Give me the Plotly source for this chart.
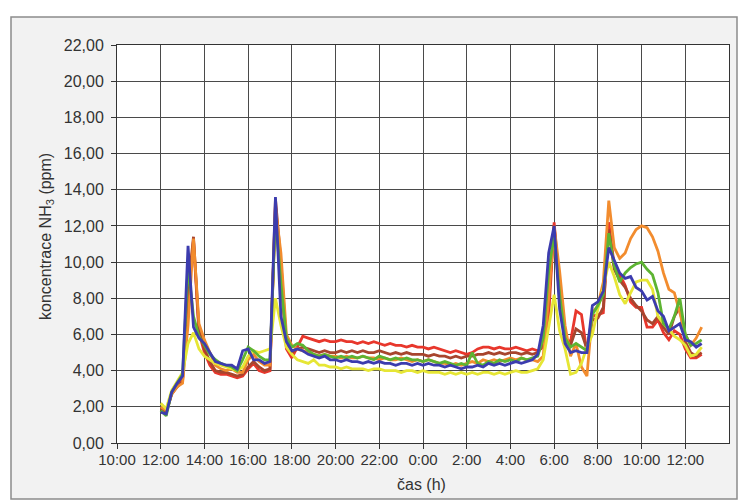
import plotly.graph_objects as go

# time in hours from 10:00 of day 1 (24 = midnight), 15-minute steps
times = [12 + 0.25 * i for i in range(100)]

blue = [
    1.7, 1.6, 2.8, 3.3,  3.7, 10.9, 6.4, 5.8,  5.5, 5.0, 4.5, 4.4,  4.3, 4.3, 4.1, 5.1,
    5.2, 4.6, 4.6, 4.4,  4.5, 13.6, 7.0, 5.6,  5.1, 5.2, 5.1, 4.9,  4.8, 4.7, 4.8, 4.6,
    4.6, 4.5, 4.6, 4.5,  4.5, 4.4, 4.5, 4.4,  4.5, 4.4, 4.4, 4.3,  4.4, 4.4, 4.3, 4.4,
    4.3, 4.4, 4.3, 4.3,  4.2, 4.3, 4.2, 4.1,  4.2, 4.2, 4.3, 4.2,  4.4, 4.3, 4.4, 4.3,
    4.4, 4.5, 4.4, 4.5,  4.6, 4.9, 6.5, 10.5, 12.0, 7.4, 5.5, 5.0, 5.1, 5.0, 5.0, 7.6,
    7.8, 8.4, 10.8, 10.1, 9.4, 9.1, 9.2, 8.6, 8.4, 7.9, 8.1, 7.3,  7.0, 6.2, 6.4, 6.6,
    5.7, 5.6, 5.3, 5.5,
]
green = [
    1.8, 1.5, 2.8, 3.3,  3.8, 9.8, 7.0, 5.9,  5.4, 4.9, 4.6, 4.4,  4.3, 4.2, 4.0, 4.6,
    5.3, 5.1, 4.8, 4.6,  4.6, 12.6, 8.8, 5.8,  5.3, 5.5, 5.4, 5.1,  4.9, 4.8, 4.9, 4.8,
    4.7, 4.8, 4.7, 4.8,  4.7, 4.8, 4.7, 4.6,  4.8, 4.7, 4.6, 4.7,  4.6, 4.7, 4.6, 4.6,
    4.5, 4.6, 4.5, 4.4,  4.5, 4.4, 4.3, 4.4,  4.3, 5.0, 4.4, 4.3,  4.5, 4.4, 4.6, 4.5,
    4.6, 4.5, 4.7, 4.6,  4.7, 4.8, 5.8, 9.5,  11.5, 8.2, 5.8, 5.3, 5.5, 5.3, 5.1, 7.1,
    7.6, 8.2, 11.6, 9.8, 8.9, 9.4, 9.7, 9.9, 10.0, 9.6, 9.3, 8.3, 6.6, 6.3, 7.0, 8.0,
    6.0, 5.4, 5.5, 5.7,
]
yellow = [
    2.2, 1.9, 2.9, 3.4,  3.9, 5.5, 6.1, 5.2,  4.8, 4.6, 4.4, 4.3,  4.2, 4.1, 4.0, 4.2,
    4.8, 5.1, 5.0, 5.1,  5.2, 8.0, 6.5, 5.3,  4.9, 4.6, 4.5, 4.4,  4.6, 4.3, 4.3, 4.2,
    4.2, 4.1, 4.2, 4.1,  4.1, 4.1, 4.0, 4.1,  4.1, 4.0, 4.0, 4.0,  3.9, 4.0, 4.0, 3.9,
    4.0, 3.9, 3.9, 3.9,  3.8, 3.9, 3.8, 3.9,  3.8, 3.9, 3.8, 3.9,  3.9, 3.8, 3.9, 3.8,
    3.9, 4.0, 3.9, 3.9,  4.0, 4.1, 4.6, 6.5,  8.2, 6.2, 5.2, 3.8,  3.9, 4.4, 5.3, 6.0,
    7.4, 8.6, 10.0, 9.2, 8.2, 7.7, 8.3, 8.9,  9.0, 9.0, 8.5, 7.0,  6.6, 6.3, 5.9, 5.7,
    5.4, 4.8, 4.9, 5.3,
]
orange = [
    2.0, 1.8, 2.7, 3.1,  3.3, 6.5, 11.3, 6.6, 5.7, 5.0, 4.3, 4.1,  4.0, 4.1, 3.9, 3.9,
    4.6, 4.9, 4.5, 4.3,  4.3, 13.0, 10.5, 6.0, 5.4, 5.2, 5.1, 5.0, 4.9, 4.8, 4.9, 4.8,
    4.8, 4.7, 4.8, 4.7,  4.7, 4.8, 4.7, 4.7,  4.6, 4.7, 4.6, 4.6,  4.7, 4.6, 4.5, 4.6,
    4.5, 4.6, 4.5, 4.4,  4.4, 4.3, 4.4, 4.3,  4.4, 4.5, 4.4, 4.6,  4.5, 4.6, 4.5, 4.6,
    4.7, 4.6, 4.7, 4.6,  4.6, 4.5, 4.8, 8.0,  12.0, 9.5, 6.5, 4.8, 5.5, 4.2, 3.7, 7.2,
    7.6, 8.9, 13.4, 10.8, 10.2, 10.5, 11.3, 11.8, 12.0, 11.9, 11.4, 10.6, 9.4, 8.5, 8.3, 7.2,
    6.0, 5.4, 5.8, 6.4,
]
red = [
    1.9, 1.7, 2.7, 3.2,  3.5, 8.0, 11.2, 6.1, 5.0, 4.3, 3.9, 3.8,  3.8, 3.7, 3.6, 3.7,
    4.1, 4.4, 4.0, 3.9,  4.0, 13.2, 9.2, 5.2,  4.7, 5.3, 5.9, 5.8,  5.7, 5.6, 5.7, 5.6,
    5.6, 5.7, 5.6, 5.6,  5.5, 5.6, 5.5, 5.6,  5.5, 5.4, 5.5, 5.4,  5.4, 5.3, 5.4, 5.3,
    5.3, 5.2, 5.3, 5.2,  5.1, 5.0, 5.1, 5.0,  4.9, 5.0, 5.2, 5.3,  5.3, 5.2, 5.3, 5.2,
    5.2, 5.3, 5.2, 5.1,  5.2, 5.1, 5.3, 7.0,  12.2, 8.5, 5.7, 5.6, 7.3, 7.1, 5.0, 7.0,
    7.1, 7.2, 12.2, 9.8, 9.3, 8.7, 7.8, 7.5,  7.5, 6.4, 6.4, 6.8,  6.1, 5.7, 6.2, 6.0,
    5.2, 4.7, 4.7, 4.9,
]
brown = [
    1.9, 1.7, 2.7, 3.1,  3.4, 8.5, 11.4, 6.3, 5.2, 4.5, 4.0, 3.9,  3.9, 3.8, 3.7, 3.8,
    4.2, 4.5, 4.2, 4.0,  4.1, 13.5, 10.0, 5.5, 5.0, 5.2, 5.3, 5.2,  5.1, 5.0, 5.1, 5.0,
    5.0, 5.1, 5.0, 5.1,  5.0, 5.1, 5.0, 5.0,  5.1, 5.0, 4.9, 5.0,  4.9, 5.0, 4.9, 4.9,
    4.9, 4.8, 4.9, 4.8,  4.8, 4.7, 4.8, 4.7,  4.8, 4.8, 4.9, 4.9,  5.0, 4.9, 5.0, 4.9,
    5.0, 5.0, 4.9, 5.0,  4.9, 5.0, 5.4, 8.0,  12.0, 8.3, 5.6, 5.4, 6.3, 6.1, 5.2, 6.8,
    6.9, 7.5, 11.8, 9.6, 9.0, 8.6, 8.0, 7.6,  7.3, 6.8, 6.6, 7.0,  6.4, 6.0, 7.0, 7.5,
    5.6, 5.0, 4.8, 5.0,
]

tick_vals = list(range(10, 37, 2))
tick_text = ["10:00", "12:00", "14:00", "16:00", "18:00", "20:00", "22:00",
             "0:00", "2:00", "4:00", "6:00", "8:00", "10:00", "12:00"]

series = [
    ("red", red, "#e8372c"),
    ("brown", brown, "#a8452e"),
    ("orange", orange, "#f28c2e"),
    ("yellow", yellow, "#e6e635"),
    ("green", green, "#5db432"),
    ("blue", blue, "#3c3cae"),
]

fig = go.Figure()
for name, vals, col in series:
    fig.add_trace(go.Scatter(x=times, y=vals, mode="lines", name=name,
                             line=dict(color=col, width=2.8)))

W, H = 741, 501
L, R, T, B = 117, 12, 45, 58
pw, ph = W - L - R, H - T - B

def px(x):
    return (x - L) / pw

def py(y):
    return (H - B - y) / ph

# outer frame of the chart
fig.add_shape(type="rect", xref="paper", yref="paper",
              x0=px(11), x1=px(737), y0=py(499), y1=py(17),
              fillcolor="#f2f2f2", line=dict(color="#8c8c8c", width=1.5),
              layer="below")
# white plot area
fig.add_shape(type="rect", xref="paper", yref="paper",
              x0=0, x1=1, y0=0, y1=1,
              fillcolor="white", line=dict(width=0), layer="below")

fig.add_annotation(text="koncentrace NH<sub>3</sub> (ppm)", textangle=-90,
                   xref="paper", yref="paper", x=px(46), y=py(237),
                   xanchor="center", yanchor="middle",
                   showarrow=False, font=dict(size=16, color="#333333"))
fig.add_annotation(text="čas (h)", xref="paper", yref="paper",
                   x=px(421), y=py(485), xanchor="center", yanchor="middle",
                   showarrow=False, font=dict(size=16, color="#333333"))

fig.update_layout(
    width=W, height=H,
    margin=dict(l=L, r=R, t=T, b=B),
    paper_bgcolor="white",
    plot_bgcolor="white",
    showlegend=False,
    separators=",.",
    font=dict(family="Liberation Sans, Arial, sans-serif", size=15, color="#333333"),
)
fig.update_xaxes(range=[10, 38], tickvals=tick_vals, ticktext=tick_text,
                 showgrid=True, gridcolor="#4a4a4a", gridwidth=1,
                 showline=True, linecolor="#333333", linewidth=1, mirror=True,
                 ticks="outside", ticklen=5, tickcolor="#333333",
                 ticklabelstandoff=-2,
                 tickfont=dict(size=15, color="#333333"), zeroline=False)
fig.update_yaxes(range=[0, 22], dtick=2, tickformat=".2f",
                 showgrid=True, gridcolor="#4a4a4a", gridwidth=1,
                 showline=True, linecolor="#333333", linewidth=1, mirror=True,
                 ticks="outside", ticklen=5, tickcolor="#333333",
                 ticklabelstandoff=4,
                 tickfont=dict(size=16, color="#333333"), zeroline=False)

fig.write_html("out.html", config={"displayModeBar": False},
               post_script="document.body.style.margin='0px';")
